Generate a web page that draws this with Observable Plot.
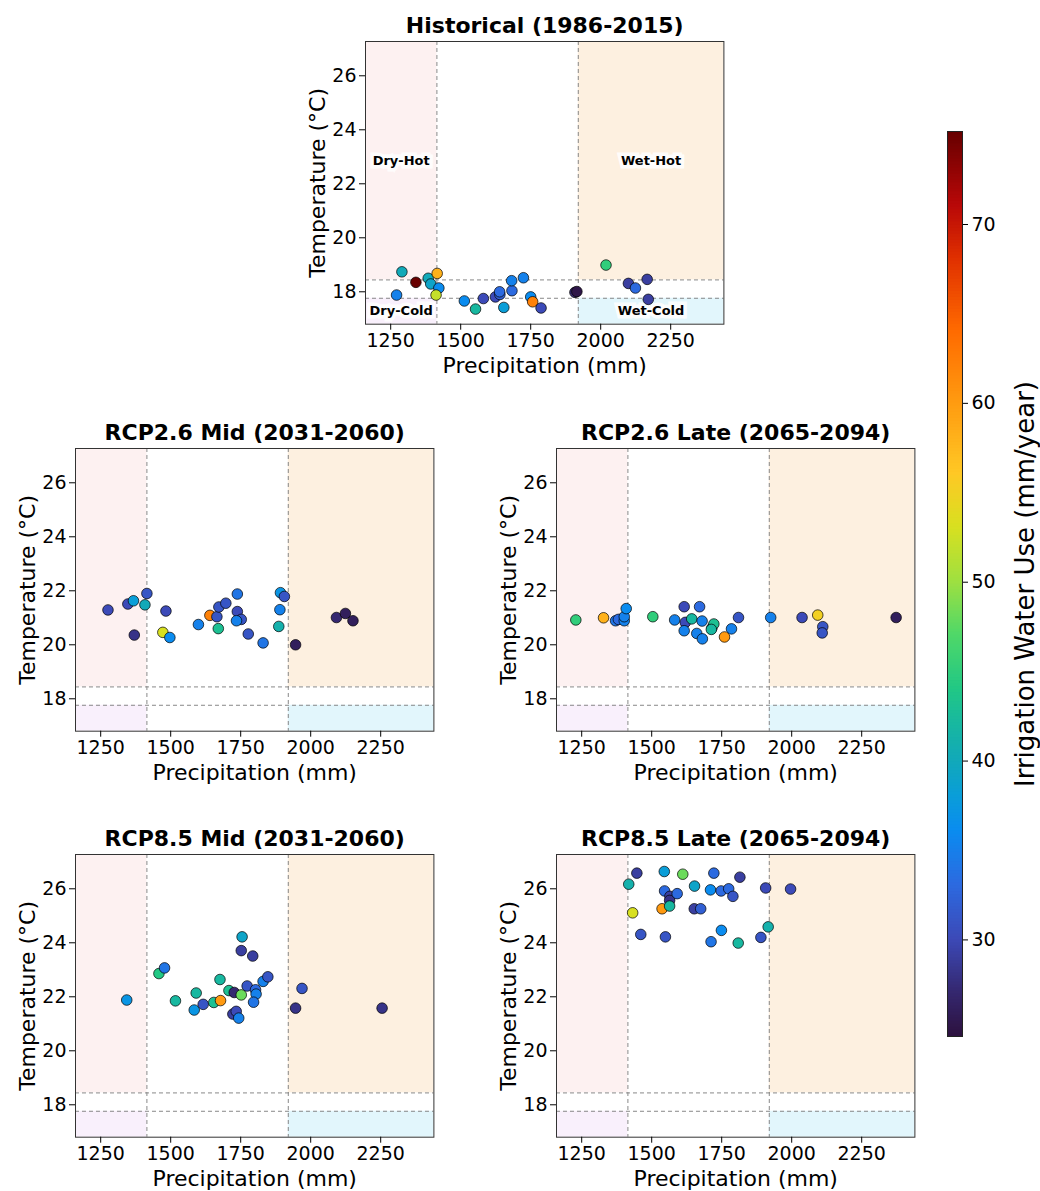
<!DOCTYPE html>
<html><head><meta charset="utf-8">
<script src="https://cdn.jsdelivr.net/npm/d3@7"></script>
<script src="https://cdn.jsdelivr.net/npm/@observablehq/plot@0.6"></script>
<style>
body{margin:0;background:#fff;font-family:"DejaVu Sans",sans-serif;}
#root{position:relative;width:1040px;height:1191px;overflow:hidden;}
.panel{position:absolute;}
</style></head><body><div id="root"></div>
<script>
// axis ticks and domains
const xTicks = [1250, 1500, 1750, 2000, 2250];
const yTicks = [18, 20, 22, 24, 26];
const cTicks = [30, 40, 50, 60, 70];
const xDomain = [1160, 2440];
const yDomain = [16.8, 27.27];
const cDomain = [24.6, 75.2];
// climate zone thresholds
const dryP = 1415, wetP = 1920, hotT = 18.44, coldT = 17.76;

// colormap stops (value -> colour)
const cmapValues = [24.6, 27, 30, 33, 36, 38, 40, 42, 44, 47, 50, 53, 56, 60, 64, 68, 71, 75.2];
const cmapColors = ["#2d1240", "#352870", "#3c4ab8", "#2c6ae0", "#0a8cf0", "#0a9ed8", "#12a9b8", "#18b8a0", "#22c884", "#50d868", "#a0e040", "#d8e020", "#ffc825", "#ff9a10", "#ff6a00", "#e03000", "#b80808", "#640000"];

// Historical (1986-2015)
const histP = [1290,1271,1340,1384,1393,1416,1422,1412,1513,1553,1581,1624,1640,1639,1654,1683,1682,1724,1750,1757,1787,1908,1915,2019,2099,2124,2166,2170];
const histT = [18.74,17.88,18.35,18.50,18.29,18.68,18.14,17.88,17.66,17.36,17.75,17.81,17.90,18.00,17.42,18.04,18.41,18.52,17.81,17.63,17.40,17.98,18.01,18.99,18.31,18.14,18.46,17.72];
const histW = [40,35,75,40,39,58,36,52,36,42,30,30,32,33,38,33,35,35,36,62,30,27,25,45,29,33,29,29];

// RCP2.6 Mid (2031-2060)
const r26mP = [1276,1347,1367,1370,1408,1415,1472,1483,1497,1599,1640,1665,1672,1697,1670,1738,1738,1752,1735,1777,1830,1886,1890,1892,1906,1946,2092,2124,2151];
const r26mT = [21.29,21.51,21.63,20.36,21.48,21.90,20.46,21.25,20.27,20.75,21.09,21.04,21.40,21.54,20.60,21.88,21.23,20.94,20.89,20.40,20.07,20.68,21.30,21.93,21.79,20.00,21.01,21.16,20.89];
const r26mW = [30,30,38,28,40,31,53,30,36,35,62,31,31,31,43,34,30,31,35,31,34,41,35,37,31,26,27,26,26];

// RCP2.6 Late (2065-2094)
const r26lP = [1229,1328,1371,1381,1402,1402,1409,1504,1582,1616,1620,1616,1643,1661,1671,1680,1681,1715,1722,1713,1760,1785,1810,1925,2037,2093,2111,2109,2373];
const r26lT = [20.92,21.00,20.89,20.94,20.89,21.04,21.34,21.04,20.92,21.41,20.83,20.52,20.96,20.42,21.41,20.88,20.22,20.62,20.77,20.57,20.29,20.59,21.01,21.01,21.01,21.10,20.67,20.44,21.01];
const r26lW = [45,58,34,33,35,35,36,45,35,30,30,35,42,35,33,35,35,28,43,42,60,35,31,35,30,55,31,31,26];

// RCP8.5 Mid (2031-2060)
const r85mP = [1343,1458,1478,1517,1584,1591,1616,1654,1676,1678,1708,1727,1752,1722,1734,1743,1752,1755,1793,1773,1803,1805,1796,1830,1847,1946,1969,2255];
const r85mT = [21.88,22.86,23.07,21.85,21.51,22.14,21.72,21.79,22.64,21.86,22.23,22.16,22.07,21.36,21.46,21.21,23.71,24.22,23.51,22.40,22.26,22.10,21.80,22.57,22.74,21.58,22.31,21.58];
const r85mW = [37,44,34,42,37,42,31,43,42,60,43,27,48,29,30,35,29,39,29,31,33,35,34,35,31,28,31,28];

// RCP8.5 Late (2065-2094)
const r85lP = [1418,1447,1432,1461,1545,1546,1565,1564,1591,1537,1564,1549,1611,1653,1652,1675,1722,1710,1712,1749,1748,1775,1790,1815,1809,1890,1907,1916,1996];
const r85lT = [26.17,26.58,25.11,24.31,26.64,25.92,25.72,25.57,25.82,25.26,25.36,24.22,26.54,26.10,25.26,25.26,26.58,25.96,24.04,24.46,25.92,26.00,25.72,26.43,23.99,24.20,26.03,24.59,25.99];
const r85lW = [41,29,53,31,38,33,29,28,33,60,42,31,48,39,29,32,33,36,34,36,33,33,31,29,42,31,30,41,30];

const zoneNames = ["Dry-Hot", "Wet-Hot", "Dry-Cold", "Wet-Cold"];
const zoneFills = ["#fdf1f1", "#fdf0e0", "#f9f0fc", "#e2f6fc"];

const root = document.getElementById("root");
const FONT = "DejaVu Sans";
const mL = 80, mR = 10, mT = 40, mB = 60, FW = 358.4, FH = 282.7;

const colorScale = {type: "linear", domain: cmapValues, range: cmapColors, interpolate: "rgb", clamp: true};

function panel(title, P, T, W, frameLeft, frameTop, showLabels) {
  const data = P.map((p, i) => ({p, t: T[i], w: W[i]}));
  const zones = [
    {x1: xDomain[0], x2: dryP, y1: hotT, y2: yDomain[1]},
    {x1: wetP, x2: xDomain[1], y1: hotT, y2: yDomain[1]},
    {x1: xDomain[0], x2: dryP, y1: yDomain[0], y2: coldT},
    {x1: wetP, x2: xDomain[1], y1: yDomain[0], y2: coldT}
  ].map((z, i) => ({...z, name: zoneNames[i], fill: zoneFills[i]}));
  const marks = [];
  zones.forEach(z => marks.push(Plot.rect([z], {x1: "x1", x2: "x2", y1: "y1", y2: "y2", fill: z.fill})));
  marks.push(Plot.ruleX([dryP, wetP], {stroke: "#888", strokeDasharray: "4,3", strokeWidth: 1}));
  marks.push(Plot.ruleY([hotT, coldT], {stroke: "#888", strokeDasharray: "4,3", strokeWidth: 1}));
  if (showLabels) {
    marks.push(Plot.text(zones, {
      x: z => (z.x1 + z.x2) / 2, y: z => (z.y1 + z.y2) / 2, text: "name",
      fontWeight: "bold", fontSize: 13, fill: "black", stroke: "white", strokeWidth: 7, strokeOpacity: 0.85, strokeLinejoin: "miter"
    }));
  }
  marks.push(Plot.dot(data, {x: "p", y: "t", fill: "w", r: 5.3, stroke: "black", strokeWidth: 0.7}));
  marks.push(Plot.frame({stroke: "#333", strokeWidth: 1}));
  marks.push(Plot.axisX({ticks: xTicks, tickSize: 6, tickPadding: 3, label: null, tickFormat: d => String(d), fontSize: 19}));
  marks.push(Plot.axisY({ticks: yTicks, tickSize: 6, tickPadding: 3, label: null, tickFormat: d => String(d), fontSize: 19}));
  marks.push(Plot.text([title], {frameAnchor: "top", dy: -8, lineAnchor: "bottom", fontSize: 22, fontWeight: "bold"}));
  marks.push(Plot.text(["Precipitation (mm)"], {frameAnchor: "bottom", dy: 42, lineAnchor: "middle", fontSize: 22}));
  marks.push(Plot.text(["Temperature (°C)"], {frameAnchor: "left", dx: -48, rotate: -90, textAnchor: "middle", lineAnchor: "middle", fontSize: 22}));
  const svg = Plot.plot({
    width: mL + FW + mR, height: mT + FH + mB,
    marginLeft: mL, marginRight: mR, marginTop: mT, marginBottom: mB,
    x: {domain: xDomain}, y: {domain: yDomain},
    color: colorScale,
    style: {fontFamily: FONT, fontSize: "19px", color: "black", background: "transparent", overflow: "visible"},
    marks
  });
  svg.classList.add("panel");
  svg.style.left = (frameLeft - mL) + "px";
  svg.style.top = (frameTop - mT) + "px";
  root.appendChild(svg);
}

panel("Historical (1986-2015)", histP, histT, histW, 365, 41.4, true);
panel("RCP2.6 Mid (2031-2060)", r26mP, r26mT, r26mW, 75, 448, false);
panel("RCP2.6 Late (2065-2094)", r26lP, r26lT, r26lW, 556, 448, false);
panel("RCP8.5 Mid (2031-2060)", r85mP, r85mT, r85mW, 75, 854, false);
panel("RCP8.5 Late (2065-2094)", r85lP, r85lT, r85lW, 556, 854, false);

// colorbar
const nSteps = 300;
const stepSize = (cDomain[1] - cDomain[0]) / nSteps;
const steps = d3.range(nSteps).map(i => cDomain[0] + i * stepSize);
const cb = Plot.plot({
  width: 5 + 15 + 90, height: 5 + 905 + 5,
  marginLeft: 5, marginRight: 90, marginTop: 5, marginBottom: 5,
  x: {domain: [0, 1], axis: null}, y: {domain: cDomain},
  color: colorScale,
  style: {fontFamily: FONT, fontSize: "19px", color: "black", background: "transparent", overflow: "visible"},
  marks: [
    Plot.rect(steps, {x1: 0, x2: 1, y1: d => d, y2: d => Math.min(d + stepSize * 1.5, cDomain[1]), fill: d => d}),
    Plot.frame({stroke: "#222", strokeWidth: 1}),
    Plot.axisY({anchor: "right", ticks: cTicks, tickSize: 5, tickPadding: 4, label: null, tickFormat: d => String(d), fontSize: 19}),
    Plot.text(["Irrigation Water Use (mm/year)"], {frameAnchor: "right", dx: 63, rotate: -90, textAnchor: "middle", lineAnchor: "middle", fontSize: 26})
  ]
});
cb.classList.add("panel");
cb.style.left = (947 - 5) + "px";
cb.style.top = (131 - 5) + "px";
root.appendChild(cb);
</script></body></html>
